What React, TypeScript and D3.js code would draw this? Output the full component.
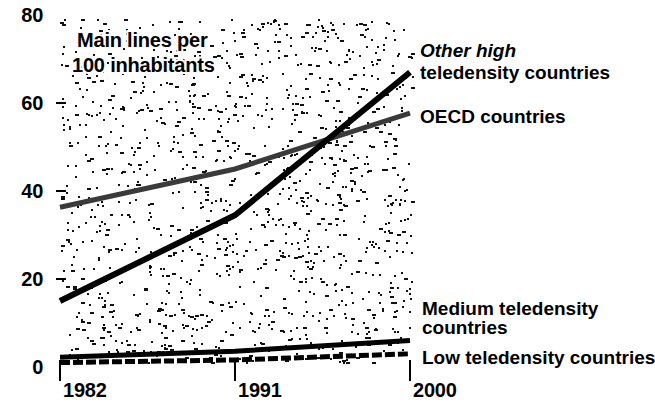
import * as d3 from "d3";

const YEARS = [1982, 1991, 2000];
const OTHER_HIGH = [15, 34.5, 67];
const OECD = [36.3, 45, 57.7];
const MEDIUM = [2.2, 3.6, 6];
const LOW = [1.0, 1.6, 3.0];
const Y_TICKS = [0, 20, 40, 60, 80];

const W = 655;
const H = 409;
const FONT = "'Liberation Sans', Arial, sans-serif";

const x = d3.scaleLinear().domain([1982, 2000]).range([60, 410]);
const y = d3.scaleLinear().domain([0, 80]).range([367, 15]);

// deterministic speckle texture for the printed-screen background
function speckle() {
  let s = 12345;
  const next = () => {
    s = (s * 1103515245 + 12345) % 2147483648;
    return s / 2147483648;
  };
  const dots: { x: number; y: number; w: number }[] = [];
  for (let i = 0; i < 1300; i++) {
    const px = 60 + next() * 352;
    const py = 18 + next() * 345;
    const w = next() < 0.25 ? 4 : 2;
    dots.push({ x: Math.round(px), y: Math.round(py), w });
  }
  return dots;
}

const line = d3
  .line<number>()
  .x((_, i) => x(YEARS[i]))
  .y((d) => y(d));

const App = () => {
  const dots = speckle();
  const txt = { fontFamily: FONT, fontWeight: 700, fill: "#000" } as const;

  return (
    <svg
      width={W}
      height={H}
      style={{ position: "absolute", left: 0, top: 0, background: "#fff" }}
    >
      <g fill="#111">
        {dots.map((d, i) => (
          <rect key={i} x={d.x} y={d.y} width={d.w} height={2} />
        ))}
      </g>

      {/* title with white knockout */}
      <g style={{ ...txt, fontSize: 20, letterSpacing: -0.2 }}>
        <text x={77} y={47} stroke="#fff" strokeWidth={4} fill="#fff">
          Main lines per
        </text>
        <text x={72} y={72} stroke="#fff" strokeWidth={4} fill="#fff">
          100 inhabitants
        </text>
        <text x={77} y={47}>Main lines per</text>
        <text x={72} y={72}>100 inhabitants</text>
      </g>

      {/* y ticks */}
      {Y_TICKS.map((t) => (
        <g key={t}>
          <text
            x={43}
            y={y(t) + 7}
            textAnchor="end"
            style={{ ...txt, fontSize: 20, letterSpacing: -0.3 }}
          >
            {t}
          </text>
          {t > 0 && t < 80 && (
            <line x1={56} x2={66} y1={y(t)} y2={y(t)} stroke="#000" strokeWidth={2} />
          )}
        </g>
      ))}

      {/* x ticks */}
      {YEARS.map((yr) => (
        <g key={yr}>
          <line
            x1={x(yr)}
            x2={x(yr)}
            y1={360}
            y2={381}
            stroke="#000"
            strokeWidth={2}
          />
          <text
            x={x(yr) + 3}
            y={397}
            style={{ ...txt, fontSize: 20, letterSpacing: -0.2 }}
          >
            {yr}
          </text>
        </g>
      ))}

      {/* series */}
      <path d={line(OECD) ?? ""} fill="none" stroke="#3a3a3a" strokeWidth={5} />
      <path d={line(OTHER_HIGH) ?? ""} fill="none" stroke="#000" strokeWidth={6} />
      <path d={line(MEDIUM) ?? ""} fill="none" stroke="#000" strokeWidth={5} />
      <path
        d={line(LOW) ?? ""}
        fill="none"
        stroke="#000"
        strokeWidth={5}
        strokeDasharray="10,3"
      />

      {/* labels */}
      <g style={{ ...txt, fontSize: 19, letterSpacing: 0 }}>
        <text x={420} y={57} fontStyle="italic">
          Other high
        </text>
        <text x={420} y={79}>teledensity countries</text>
        <text x={420} y={123}>OECD countries</text>
        <text x={422} y={315}>Medium teledensity</text>
        <text x={422} y={334}>countries</text>
        <text x={422} y={364}>Low teledensity countries</text>
      </g>
    </svg>
  );
};

export default App;
